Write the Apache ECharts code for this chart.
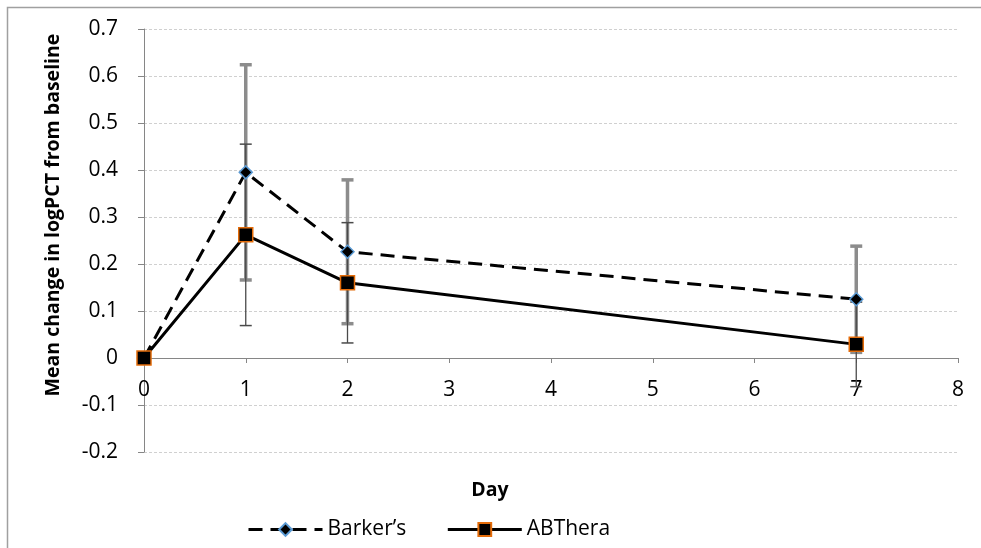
<!DOCTYPE html>
<html>
<head>
<meta charset="utf-8">
<script src="https://cdn.jsdelivr.net/npm/echarts@6/dist/echarts.min.js"></script>
<style>
html,body{margin:0;padding:0;background:#fff;}
#chart{width:981px;height:548px;}
</style>
</head>
<body>
<div id="chart"></div>
<script>
// ---- Data ----
const days = [0, 1, 2, 7];
const barkers = [0, 0.395, 0.226, 0.125];
const barkersErr = [0, 0.229, 0.153, 0.113];
const abthera = [0, 0.262, 0.160, 0.029];
const abtheraErr = [0, 0.193, 0.128, 0.090];
const xTicks = [0, 1, 2, 3, 4, 5, 6, 7, 8];
const yTicks = [-0.2, -0.1, 0, 0.1, 0.2, 0.3, 0.4, 0.5, 0.6, 0.7];
const seriesNames = ['Barker\u2019s', 'ABThera'];

const FONT = '"Open Sans", sans-serif';
const GRID = { left: 144, right: 23, top: 29, bottom: 96 };
const PLOT_H = 548 - GRID.top - GRID.bottom;
// distance from bottom of plot to the zero line (axis crosses at y = 0)
const zeroOffset = -PLOT_H * (0 - yTicks[0]) / (yTicks[yTicks.length - 1] - yTicks[0]);

function pairs(xs, ys) { return xs.map((x, i) => [x, ys[i]]); }
function errData(xs, ys, es) {
  const out = [];
  xs.forEach((x, i) => { if (es[i] > 0) out.push([x, ys[i] - es[i], ys[i] + es[i]]); });
  return out;
}
function errRender(w, color, capHalf, capW) {
  return function (params, api) {
    const x = api.value(0), lo = api.value(1), hi = api.value(2);
    const pH = api.coord([x, hi]), pL = api.coord([x, lo]);
    return {
      type: 'group',
      children: [
        { type: 'line', shape: { x1: pH[0], y1: pH[1], x2: pL[0], y2: pL[1] }, style: { stroke: color, lineWidth: w } },
        { type: 'line', shape: { x1: pH[0] - capHalf, y1: pH[1], x2: pH[0] + capHalf, y2: pH[1] }, style: { stroke: color, lineWidth: capW } },
        { type: 'line', shape: { x1: pL[0] - capHalf, y1: pL[1], x2: pL[0] + capHalf, y2: pL[1] }, style: { stroke: color, lineWidth: capW } }
      ]
    };
  };
}

const chart = echarts.init(document.getElementById('chart'));
chart.setOption({
  animation: false,
  backgroundColor: '#fff',
  grid: GRID,
  xAxis: {
    type: 'value', min: xTicks[0], max: xTicks[xTicks.length - 1], interval: 1,
    offset: zeroOffset,
    axisLine: { onZero: false, lineStyle: { color: '#868686', width: 1 } },
    axisTick: { show: true, length: 5, lineStyle: { color: '#868686' } },
    axisLabel: { margin: 22, color: '#000', fontSize: 21, fontFamily: FONT },
    splitLine: { show: false }
  },
  yAxis: {
    type: 'value', min: yTicks[0], max: yTicks[yTicks.length - 1], interval: 0.1,
    axisLine: { show: true, onZero: false, lineStyle: { color: '#868686', width: 1 } },
    axisTick: { show: true, length: 6, lineStyle: { color: '#868686' } },
    axisLabel: { margin: 26, color: '#000', fontSize: 21, fontFamily: FONT,
      formatter: v => String(Math.round(v * 10) / 10) },
    splitLine: { show: true, lineStyle: { color: '#d0d0d0', type: [3, 2], width: 1 } }
  },
  legend: {
    left: 242, top: 514,
    itemWidth: 74, itemHeight: 16, itemGap: 40,
    data: seriesNames,
    lineStyle: { width: 3 },
    textStyle: { color: '#000', fontSize: 21, fontFamily: FONT }
  },
  graphic: [
    { type: 'rect', shape: { x: 7.5, y: 7.5, width: 1100, height: 700 }, style: { fill: 'none', stroke: '#a0a0a0', lineWidth: 1.5 }, silent: true },
    { type: 'text', x: 53, y: 215, rotation: Math.PI / 2,
      style: { text: 'Mean change in logPCT from baseline', font: 'bold 19.5px ' + FONT, fill: '#000', align: 'center', verticalAlign: 'middle' } },
    { type: 'text', x: 490, y: 490,
      style: { text: 'Day', font: 'bold 19.5px ' + FONT, fill: '#000', align: 'center', verticalAlign: 'middle' } }
  ],
  series: [
    { type: 'custom', name: 'errB', renderItem: errRender(3.5, '#8c8c8c', 6, 3.5), data: errData(days, barkers, barkersErr), z: 1, silent: true },
    { type: 'custom', name: 'errA', renderItem: errRender(1.3, '#4a4a4a', 6, 1.5), data: errData(days, abthera, abtheraErr), z: 2, silent: true },
    {
      type: 'line', name: seriesNames[0], data: pairs(days, barkers), z: 3,
      symbol: 'diamond', symbolSize: 13, showAllSymbol: true,
      lineStyle: { color: '#000', width: 3, type: [14, 8] },
      itemStyle: { color: '#000', borderColor: '#5B9BD5', borderWidth: 1.5 }
    },
    {
      type: 'line', name: seriesNames[1], data: pairs(days, abthera), z: 4,
      symbol: 'rect', symbolSize: 14, showAllSymbol: true,
      lineStyle: { color: '#000', width: 3 },
      itemStyle: { color: '#000', borderColor: '#E46C0A', borderWidth: 1.5 }
    }
  ]
});
</script>
</body>
</html>
